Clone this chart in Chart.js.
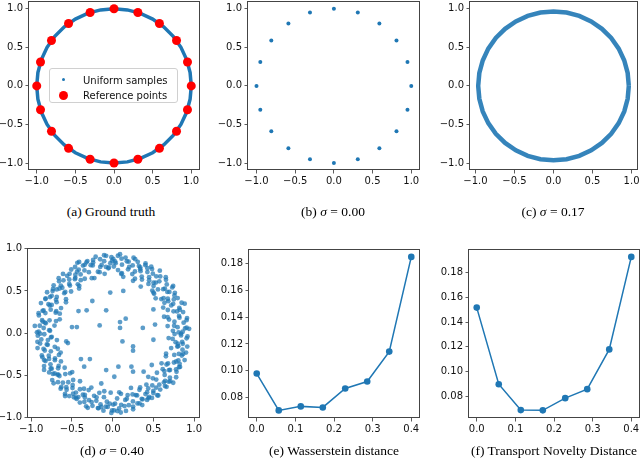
<!DOCTYPE html>
<html>
<head>
<meta charset="utf-8">
<script src="https://cdn.jsdelivr.net/npm/chart.js@4.4.0/dist/chart.umd.min.js"></script>
<style>
  body { margin: 0; width: 640px; height: 467px; overflow: hidden; position: relative; background: #fff; }
  canvas { position: absolute; }
  .caption { position: absolute; font-family: "Liberation Serif", serif; font-size: 13.5px; color: #000; white-space: nowrap; transform: translate(-50%, -50%); }
  .legend { position: absolute; background: rgba(255,255,255,0.8); border: 1px solid #d0d0d0; border-radius: 3px; box-sizing: border-box; z-index: 5; }
  .legend .dot { position: absolute; border-radius: 50%; }
  .legend .txt { position: absolute; font-family: "DejaVu Sans", sans-serif; font-size: 10px; color: #111; white-space: nowrap; transform: translateY(-50%); }
</style>
</head>
<body>
<canvas id="chartA"></canvas>
<canvas id="chartB"></canvas>
<canvas id="chartC"></canvas>
<canvas id="chartD"></canvas>
<canvas id="chartE"></canvas>
<canvas id="chartF"></canvas>

<div class="legend" style="left:49px;top:68px;width:129px;height:35px">
  <span class="dot" style="left:12px;top:9px;width:3px;height:3px;background:#1f77b4"></span>
  <span class="txt" style="left:33px;top:11px">Uniform samples</span>
  <span class="dot" style="left:9px;top:21.5px;width:9px;height:9px;background:#ff0000"></span>
  <span class="txt" style="left:33px;top:26px">Reference points</span>
</div>

<div class="caption" style="left:111px;top:212px">(a) Ground truth</div>
<div class="caption" style="left:333px;top:212px">(b) <i>σ</i> = 0.00</div>
<div class="caption" style="left:553px;top:212px">(c) <i>σ</i> = 0.17</div>
<div class="caption" style="left:112px;top:451px">(d) <i>σ</i> = 0.40</div>
<div class="caption" style="left:334px;top:451px">(e) Wasserstein distance</div>
<div class="caption" style="left:554px;top:451px">(f) Transport Novelty Distance</div>

<script>
// reference points on the unit circle (panels a and b)
const refX = [1, 0.951, 0.809, 0.588, 0.309, 0, -0.309, -0.588, -0.809, -0.951, -1, -0.951, -0.809, -0.588, -0.309, 0, 0.309, 0.588, 0.809, 0.951];
const refY = [0, 0.309, 0.588, 0.809, 0.951, 1, 0.951, 0.809, 0.588, 0.309, 0, -0.309, -0.588, -0.809, -0.951, -1, -0.951, -0.809, -0.588, -0.309];

// dense ring of samples (panels a and c), angles in degrees
const ringAngles = [0, 10, 20, 30, 40, 50, 60, 70, 80, 90, 100, 110, 120, 130, 140, 150, 160, 170, 180,
  190, 200, 210, 220, 230, 240, 250, 260, 270, 280, 290, 300, 310, 320, 330, 340, 350, 360];
const ringRadiusA = 1.0;
const ringRadiusC = 0.965;

// noisy samples, sigma = 0.40 (panel d): ring part in polar form
const dRingAngles = [
  1, 2, 4, 5, 7, 8, 10, 11, 13, 14, 16, 17, 19, 20, 22, 23, 25, 26, 28, 29, 3, 18,
  31, 32, 34, 35, 37, 38, 40, 41, 43, 44, 46, 47, 49, 50, 52, 53, 55, 56, 58, 59, 36, 48,
  61, 62, 64, 65, 67, 68, 70, 71, 73, 74, 76, 77, 79, 80, 82, 83, 85, 86, 88, 89, 66, 81,
  91, 92, 94, 95, 97, 98, 100, 101, 103, 104, 106, 107, 109, 110, 112, 113, 115, 116, 118, 119, 96, 111,
  121, 122, 124, 125, 127, 128, 130, 131, 133, 134, 136, 137, 139, 140, 142, 143, 145, 146, 148, 149, 126, 141,
  151, 152, 154, 155, 157, 158, 160, 161, 163, 164, 166, 167, 169, 170, 172, 173, 175, 176, 178, 179, 156, 171,
  181, 182, 184, 185, 187, 188, 190, 191, 193, 194, 196, 197, 199, 200, 202, 203, 205, 206, 208, 209, 186, 201,
  211, 212, 214, 215, 217, 218, 220, 221, 223, 224, 226, 227, 229, 230, 232, 233, 235, 236, 238, 239, 216, 231,
  241, 242, 244, 245, 247, 248, 250, 251, 253, 254, 256, 257, 259, 260, 262, 263, 265, 266, 268, 269, 246, 261,
  271, 272, 274, 275, 277, 278, 280, 281, 283, 284, 286, 287, 289, 290, 292, 293, 295, 296, 298, 299, 276, 291,
  301, 302, 304, 305, 307, 308, 310, 311, 313, 314, 316, 317, 319, 320, 322, 323, 325, 326, 328, 329, 306, 321,
  331, 332, 334, 335, 337, 338, 340, 341, 343, 344, 346, 347, 349, 350, 352, 353, 355, 356, 358, 359, 336, 351,
  0.5, 3.5, 6.5, 9.5, 12.5, 15.5, 18.5, 21.5, 24.5, 27.5, 29.5,
  30.5, 33.5, 36.5, 39.5, 42.5, 45.5, 48.5, 51.5, 54.5, 57.5, 59.5,
  60.5, 63.5, 66.5, 69.5, 72.5, 75.5, 78.5, 81.5, 84.5, 87.5, 89.5,
  90.5, 93.5, 96.5, 99.5, 102.5, 105.5, 108.5, 111.5, 114.5, 117.5, 119.5,
  120.5, 123.5, 126.5, 129.5, 132.5, 135.5, 138.5, 141.5, 144.5, 147.5, 149.5,
  150.5, 153.5, 156.5, 159.5, 162.5, 165.5, 168.5, 171.5, 174.5, 177.5, 179.5,
  180.5, 183.5, 186.5, 189.5, 192.5, 195.5, 198.5, 201.5, 204.5, 207.5, 209.5,
  210.5, 213.5, 216.5, 219.5, 222.5, 225.5, 228.5, 231.5, 234.5, 237.5, 239.5,
  240.5, 243.5, 246.5, 249.5, 252.5, 255.5, 258.5, 261.5, 264.5, 267.5, 269.5,
  270.5, 273.5, 276.5, 279.5, 282.5, 285.5, 288.5, 291.5, 294.5, 297.5, 299.5,
  300.5, 303.5, 306.5, 309.5, 312.5, 315.5, 318.5, 321.5, 324.5, 327.5, 329.5,
  330.5, 333.5, 336.5, 339.5, 342.5, 345.5, 348.5, 351.5, 354.5, 357.5, 359.5
];
const dRingRadii = [
  .86, .74, .91, .80, .68, .88, .77, .93, .71, .84, .90, .66, .79, .87, .73, .92, .82, .69, .85, .78, .94, .83,
  .79, .90, .72, .85, .93, .67, .81, .88, .76, .91, .70, .84, .89, .78, .94, .73, .86, .80, .65, .92, .83, .75,
  .88, .76, .92, .81, .70, .86, .90, .74, .84, .93, .78, .87, .68, .91, .82, .89, .75, .92, .85, .79, .83, .72,
  .90, .83, .77, .92, .86, .71, .89, .80, .93, .75, .87, .84, .69, .91, .78, .88, .82, .94, .73, .86, .79, .90,
  .85, .74, .91, .80, .88, .67, .83, .93, .77, .87, .71, .90, .82, .76, .92, .86, .70, .89, .81, .94, .79, .84,
  .88, .78, .92, .70, .84, .95, .81, .74, .90, .86, .67, .93, .79, .88, .83, .72, .96, .85, .77, .91, .82, .87,
  .84, .92, .76, .88, .69, .90, .81, .94, .73, .86, .79, .91, .83, .68, .89, .77, .93, .85, .72, .87, .80, .90,
  .91, .79, .86, .72, .93, .83, .76, .89, .68, .85, .92, .80, .74, .88, .95, .82, .70, .87, .90, .78, .84, .93,
  .87, .75, .92, .81, .89, .70, .85, .94, .78, .90, .83, .73, .91, .86, .77, .93, .82, .88, .71, .95, .84, .89,
  .92, .84, .78, .90, .86, .73, .94, .81, .88, .76, .91, .85, .69, .89, .80, .93, .87, .75, .90, .83, .95, .79,
  .82, .91, .74, .87, .93, .79, .68, .89, .84, .77, .92, .86, .72, .90, .81, .88, .75, .94, .83, .70, .85, .91,
  .89, .77, .92, .83, .71, .87, .94, .80, .85, .90, .74, .88, .82, .93, .78, .86, .69, .91, .84, .76, .90, .81,
  .81, .89, .76, .92, .84, .70, .87, .95, .79, .90, .73,
  .88, .75, .91, .83, .69, .93, .80, .86, .77, .90, .84,
  .73, .90, .85, .78, .92, .81, .87, .71, .94, .83, .88,
  .86, .78, .93, .82, .74, .90, .85, .70, .88, .94, .80,
  .91, .83, .72, .88, .79, .93, .85, .76, .90, .68, .87,
  .80, .92, .86, .74, .89, .94, .71, .84, .90, .78, .93,
  .89, .75, .93, .82, .87, .70, .91, .84, .78, .95, .86,
  .77, .88, .83, .94, .71, .90, .86, .79, .92, .84, .89,
  .90, .82, .74, .93, .86, .79, .91, .70, .88, .84, .92,
  .85, .93, .71, .88, .80, .94, .77, .90, .86, .73, .89,
  .88, .79, .92, .84, .73, .90, .86, .95, .78, .82, .91,
  .76, .91, .85, .70, .89, .93, .81, .87, .74, .92, .84
];
// panel d: scattered points inside the ring
const dInnerX = [-0.25, -0.08, -0.03, 0.13, -0.42, -0.32, -0.50, -0.44, -0.16, 0.09, 0.09, 0.16, 0.12, -0.39, -0.28, -0.35, -0.08, 0.07, 0.25,
  0.25, 0.25, 0.02, -0.14, -0.65, -0.57, -0.55, 0.50, 0.52, 0.50, 0.48, 0.38, 0.50, 0.25, -0.41, -0.66, 0.23, 0.37];
const dInnerY = [0.38, 0.27, 0.48, 0.50, 0.26, 0.27, 0.07, 0.07, 0.09, 0.13, 0.06, 0.17, -0.10, -0.31, -0.31, -0.40, -0.44, -0.40, -0.16,
  -0.21, -0.46, -0.52, -0.60, 0.23, -0.10, -0.12, 0.28, 0.10, -0.08, -0.38, -0.46, 0.48, 0.62, 0.56, -0.26, -0.40, 0.06];

// panels e and f
const sigmaValues = [0, 0.057, 0.114, 0.171, 0.229, 0.286, 0.343, 0.4];
const wassersteinValues = [0.0979, 0.0703, 0.0733, 0.0725, 0.0867, 0.0919, 0.1143, 0.1852];
const tndValues = [0.1518, 0.0897, 0.0687, 0.0685, 0.0784, 0.0857, 0.1179, 0.1929];

// tick labels
const circleTicks = [-1, -0.5, 0, 0.5, 1];
const sigmaTicks = [0, 0.1, 0.2, 0.3, 0.4];
const distTicks = [0.08, 0.10, 0.12, 0.14, 0.16, 0.18];

const BLUE = '#1f77b4';
const Y_AXIS_W = 40, X_AXIS_H = 26, PAD_T = 12, PAD_R = 20;

const fmt1 = v => (v < 0 ? '\u2212' : '') + Math.abs(v).toFixed(1);
const fmt2 = v => v.toFixed(2);

function polar(angles, radii) {
  return angles.map((a, i) => {
    const r = Array.isArray(radii) ? radii[i] : radii;
    return { x: r * Math.cos(a * Math.PI / 180), y: r * Math.sin(a * Math.PI / 180) };
  });
}
const pairs = (xs, ys) => xs.map((x, i) => ({ x: x, y: ys[i] }));

const frame = {
  id: 'frame',
  afterDraw(chart) {
    const { ctx, chartArea: a } = chart;
    ctx.save();
    ctx.strokeStyle = '#444';
    ctx.lineWidth = 1;
    ctx.strokeRect(Math.round(a.left) - 0.5, Math.round(a.top) + 0.5,
      Math.round(a.right - a.left) + 1, Math.round(a.bottom - a.top) - 1);
    ctx.restore();
  }
};

function axis(min, max, ticks, fmt, dir) {
  return {
    type: 'linear',
    min: min,
    max: max,
    afterBuildTicks: s => { s.ticks = ticks.map(v => ({ value: v })); },
    afterFit: s => { if (dir === 'x') s.height = X_AXIS_H; else s.width = Y_AXIS_W; },
    grid: { display: true, drawOnChartArea: false, drawTicks: true, tickLength: 3.5, color: '#333', lineWidth: 0.8 },
    border: { display: false },
    ticks: {
      callback: v => fmt(v),
      font: { family: 'DejaVu Sans', size: 10 },
      color: '#111',
      padding: dir === 'x' ? 2 : 2.5,
      maxRotation: 0,
      autoSkip: false
    }
  };
}

function makeChart(id, box, cfg) {
  const canvas = document.getElementById(id);
  const w = Y_AXIS_W + (box.R - box.L) + PAD_R;
  const h = PAD_T + (box.B - box.T) + X_AXIS_H;
  canvas.width = w;
  canvas.height = h;
  canvas.style.width = w + 'px';
  canvas.style.height = h + 'px';
  canvas.style.left = (box.L - Y_AXIS_W) + 'px';
  canvas.style.top = (box.T - PAD_T) + 'px';
  new Chart(canvas, {
    type: 'scatter',
    data: { datasets: cfg.datasets },
    options: {
      responsive: false,
      animation: false,
      devicePixelRatio: 1,
      events: [],
      layout: { padding: { left: 0, top: PAD_T, right: PAD_R, bottom: 0 } },
      plugins: { legend: { display: false }, tooltip: { enabled: false } },
      scales: {
        x: axis(cfg.x[0], cfg.x[1], cfg.xTicks, cfg.fmtX, 'x'),
        y: axis(cfg.y[0], cfg.y[1], cfg.yTicks, cfg.fmtY, 'y')
      }
    },
    plugins: [frame]
  });
}

// (a) ground truth
makeChart('chartA', { L: 29, R: 199, T: 1, B: 170 }, {
  x: [-1.1, 1.1], y: [-1.09, 1.1], xTicks: circleTicks, yTicks: circleTicks, fmtX: fmt1, fmtY: fmt1,
  datasets: [
    { data: polar(ringAngles, ringRadiusA), showLine: true, borderColor: BLUE, borderWidth: 3.5, pointRadius: 0, order: 2 },
    { data: pairs(refX, refY), backgroundColor: '#ff0000', pointRadius: 4.5, borderWidth: 0, order: 1 }
  ]
});

// (b) sigma = 0.00
makeChart('chartB', { L: 248, R: 419, T: 1, B: 170 }, {
  x: [-1.11, 1.1], y: [-1.09, 1.1], xTicks: circleTicks, yTicks: circleTicks, fmtX: fmt1, fmtY: fmt1,
  datasets: [
    { data: pairs(refX, refY), backgroundColor: BLUE, pointRadius: 2, borderWidth: 0 }
  ]
});

// (c) sigma = 0.17
makeChart('chartC', { L: 470, R: 637, T: 1, B: 170 }, {
  x: [-1.07, 1.07], y: [-1.09, 1.1], xTicks: circleTicks, yTicks: circleTicks, fmtX: fmt1, fmtY: fmt1,
  datasets: [
    { data: polar(ringAngles, ringRadiusC), showLine: true, borderColor: 'rgba(31,119,180,0.9)', borderWidth: 4.5, pointRadius: 0 }
  ]
});

// (d) sigma = 0.40
makeChart('chartD', { L: 28, R: 199, T: 248, B: 418 }, {
  x: [-1.04, 1.06], y: [-1.01, 1.01], xTicks: circleTicks, yTicks: circleTicks, fmtX: fmt1, fmtY: fmt1,
  datasets: [
    { data: polar(dRingAngles, dRingRadii).concat(pairs(dInnerX, dInnerY)), backgroundColor: 'rgba(31,119,180,0.72)', pointRadius: 2.4, borderWidth: 0 }
  ]
});

// (e) Wasserstein distance
makeChart('chartE', { L: 249, R: 419, T: 249, B: 418 }, {
  x: [-0.02, 0.42], y: [0.0646, 0.1911], xTicks: sigmaTicks, yTicks: distTicks, fmtX: fmt1, fmtY: fmt2,
  datasets: [
    { data: pairs(sigmaValues, wassersteinValues), showLine: true, borderColor: BLUE, borderWidth: 1.5, backgroundColor: BLUE, pointRadius: 3.3, pointBorderWidth: 0 }
  ]
});

// (f) Transport Novelty Distance
makeChart('chartF', { L: 469, R: 639, T: 249, B: 418 }, {
  x: [-0.02, 0.42], y: [0.0623, 0.1993], xTicks: sigmaTicks, yTicks: distTicks, fmtX: fmt1, fmtY: fmt2,
  datasets: [
    { data: pairs(sigmaValues, tndValues), showLine: true, borderColor: BLUE, borderWidth: 1.5, backgroundColor: BLUE, pointRadius: 3.3, pointBorderWidth: 0 }
  ]
});
</script>
</body>
</html>
